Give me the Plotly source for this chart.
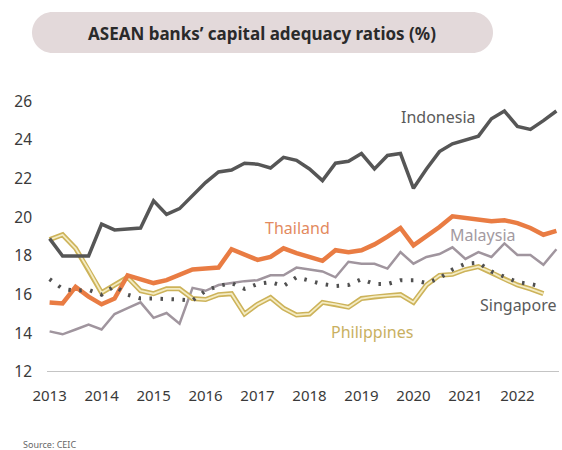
import plotly.graph_objects as go

# ---- data (quarterly, 2013Q1 ...) ----
quarters_start = 2013
indonesia = [18.9, 18.0, 18.0, 18.0, 19.65, 19.35, 19.4, 19.45, 20.85, 20.15,
             20.45, 21.1, 21.8, 22.35, 22.45, 22.8, 22.75, 22.55, 23.1, 22.95,
             22.5, 21.9, 22.8, 22.9, 23.3, 22.5, 23.2, 23.3, 21.5, 22.5,
             23.4, 23.8, 24.0, 24.2, 25.1, 25.5, 24.7, 24.55, 25.0, 25.5]
thailand = [15.6, 15.55, 16.4, 15.9, 15.5, 15.8, 17.0, 16.8, 16.6, 16.75,
            17.0, 17.3, 17.35, 17.4, 18.35, 18.05, 17.8, 17.95, 18.4, 18.15,
            17.95, 17.75, 18.3, 18.2, 18.3, 18.6, 19.0, 19.45, 18.55, 19.0,
            19.5, 20.05, 19.95, 19.9, 19.8, 19.85, 19.7, 19.45, 19.1, 19.3]
malaysia = [14.1, 13.95, 14.2, 14.45, 14.2, 15.0, 15.3, 15.6, 14.8, 15.05,
            14.5, 16.35, 16.2, 16.5, 16.6, 16.7, 16.75, 17.0, 17.0, 17.4,
            17.3, 17.2, 16.9, 17.7, 17.6, 17.6, 17.35, 18.2, 17.6, 17.95,
            18.1, 18.45, 17.85, 18.2, 17.95, 18.65, 18.05, 18.05, 17.55, 18.35]
philippines = [18.85, 19.1, 18.4, 17.3, 16.1, 16.5, 16.9, 16.2, 16.05, 16.3,
               16.3, 15.8, 15.75, 16.0, 16.05, 15.0, 15.5, 15.85, 15.3, 14.95,
               15.0, 15.6, 15.5, 15.35, 15.8, 15.9, 15.95, 16.0, 15.6, 16.5,
               17.0, 17.05, 17.3, 17.45, 17.15, 16.8, 16.5, 16.3, 16.05]
singapore = [16.8, 16.3, 16.2, 16.25, 16.0, 16.45, 16.0, 15.8, 15.8, 15.8,
             15.75, 15.7, 16.2, 16.45, 16.6, 16.3, 16.55, 16.65, 16.45, 16.9,
             16.7, 16.55, 16.45, 16.5, 16.8, 16.55, 16.55, 16.75, 16.75, 16.6,
             16.85, 17.3, 17.6, 17.65, 17.2, 16.9, 16.65, 16.55, 16.4]
year_ticks = list(range(2013, 2023))
y_ticks = [12, 14, 16, 18, 20, 22, 24, 26]


def qx(series):
    return [quarters_start + i * 0.25 for i in range(len(series))]


# ---- layout geometry (pixels) ----
W, H = 562, 450
L, R, T, B = 47, 3, 82, 78
XR = [2012.95, 2022.80]
YR = [12, 27]
PW = W - L - R
PH = H - T - B


def p(xpx, ypx):
    return (xpx - L) / PW, (H - B - ypx) / PH


fig = go.Figure()

fig.add_trace(go.Scatter(x=qx(malaysia), y=malaysia, mode="lines",
                         line=dict(color="#A0959E", width=2.5), hoverinfo="skip"))
fig.add_trace(go.Scatter(x=qx(philippines), y=philippines, mode="lines",
                         line=dict(color="#CDB35A", width=5), hoverinfo="skip"))
fig.add_trace(go.Scatter(x=qx(philippines), y=philippines, mode="lines",
                         line=dict(color="#F4ECC4", width=1.8), hoverinfo="skip"))
fig.add_trace(go.Scatter(x=qx(thailand), y=thailand, mode="lines",
                         line=dict(color="#E97C43", width=4.5), hoverinfo="skip"))
fig.add_trace(go.Scatter(x=qx(singapore), y=singapore, mode="lines",
                         line=dict(color="#505050", width=4, dash="2.5px,8.5px"),
                         hoverinfo="skip"))
fig.add_trace(go.Scatter(x=qx(indonesia), y=indonesia, mode="lines",
                         line=dict(color="#565656", width=3.5), hoverinfo="skip"))

# ---- title pill ----
x0, x1, y0, y1 = 32, 493, 12, 53
r = (y1 - y0) / 2
k = 0.5523 * r


def P(x, y):
    a, b = p(x, y)
    return f"{a:.5f},{b:.5f}"


path = (f"M {P(x0 + r, y0)} L {P(x1 - r, y0)} "
        f"C {P(x1 - r + k, y0)} {P(x1, y0 + r - k)} {P(x1, y0 + r)} "
        f"C {P(x1, y0 + r + k)} {P(x1 - r + k, y1)} {P(x1 - r, y1)} "
        f"L {P(x0 + r, y1)} "
        f"C {P(x0 + r - k, y1)} {P(x0, y0 + r + k)} {P(x0, y0 + r)} "
        f"C {P(x0, y0 + r - k)} {P(x0 + r - k, y0)} {P(x0 + r, y0)} Z")
fig.add_shape(type="path", path=path, xref="paper", yref="paper",
              fillcolor="#E3D9DA", line=dict(width=0), layer="below")

font_main = "Noto Sans, Lato, sans-serif"
tx, ty = p(262, 33)
fig.add_annotation(x=tx, y=ty, xref="paper", yref="paper", showarrow=False,
                   text="<b>ASEAN banks’ capital adequacy ratios (%)</b>",
                   font=dict(family=font_main, size=17, color="#2A2A2A"),
                   xanchor="center", yanchor="middle")

# ---- series labels ----
labels = [
    ("Indonesia", 438, 117, "#5A5A5A"),
    ("Thailand", 297, 228, "#E38A5E"),
    ("Malaysia", 483, 235, "#A39AA1"),
    ("Singapore", 518, 305, "#5A5A5A"),
    ("Philippines", 372, 332, "#C9B061"),
]
for txt, lx, ly, c in labels:
    ax_, ay_ = p(lx, ly)
    fig.add_annotation(x=ax_, y=ay_, xref="paper", yref="paper", showarrow=False,
                       text=txt, font=dict(family=font_main, size=16, color=c),
                       xanchor="center", yanchor="middle")

sx, sy = p(21, 444)
fig.add_annotation(x=sx, y=sy, xref="paper", yref="paper", showarrow=False,
                   text="Source: CEIC", font=dict(family=font_main, size=9, color="#666666"),
                   xanchor="left", yanchor="middle")

fig.update_layout(
    width=W, height=H,
    margin=dict(l=L, r=R, t=T, b=B),
    paper_bgcolor="white", plot_bgcolor="white",
    showlegend=False,
    font=dict(family=font_main, color="#3A3A3A"),
    xaxis=dict(range=XR, tickmode="array", tickvals=year_ticks,
               ticktext=[str(y) for y in year_ticks], showgrid=False,
               zeroline=False, showline=False, ticks="",
               ticklabelstandoff=13,
               tickfont=dict(size=15, color="#3A3A3A")),
    yaxis=dict(range=YR, tickmode="array", tickvals=y_ticks,
               ticktext=[str(v) for v in y_ticks], showgrid=False,
               zeroline=False, showline=False, ticks="",
               ticklabelstandoff=14,
               tickfont=dict(size=15.5, color="#3A3A3A")),
)

# bottom axis line at y = 12
fig.add_shape(type="line", xref="paper", yref="y", x0=0, x1=1, y0=12, y1=12,
              line=dict(color="#C4C4C4", width=2))

fig.write_html("out.html")
